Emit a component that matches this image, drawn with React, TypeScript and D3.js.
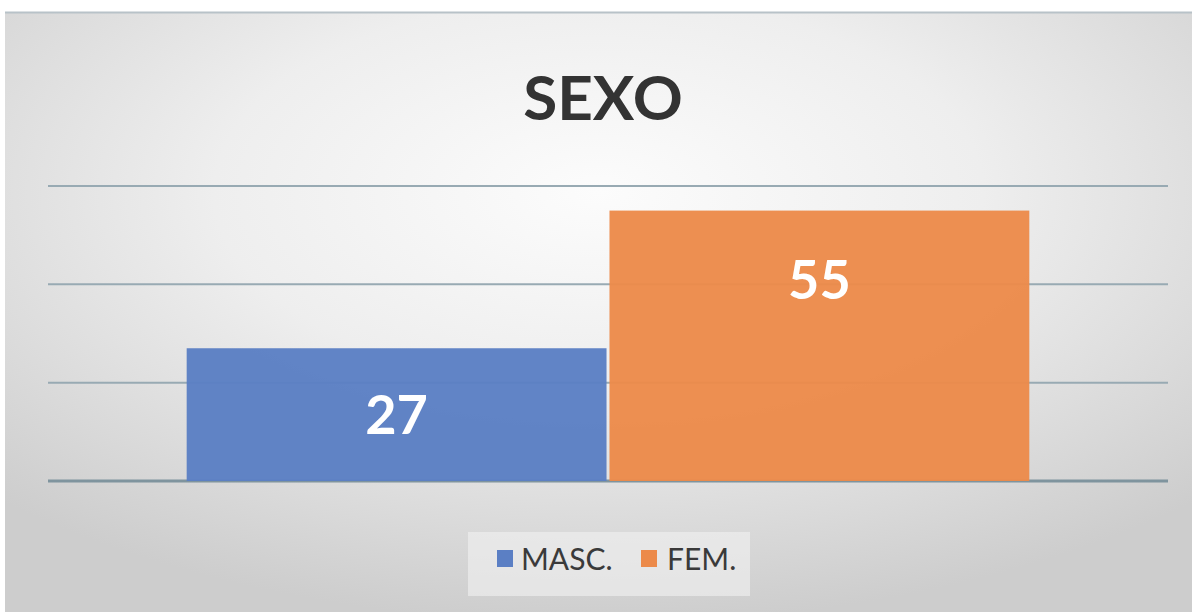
import React, { useEffect, useRef } from "react";
import * as d3 from "d3";

const categories = ["MASC.", "FEM."];
const values = [27, 55];
const colors = ["#5b7fc4", "#ec8a4a"];
const gridTicks = [0, 20, 40, 60];
const title = "SEXO";

const W = 1199;
const H = 614;

export default function App() {
  const ref = useRef<SVGSVGElement | null>(null);

  useEffect(() => {
    const svg = d3.select(ref.current);
    svg.selectAll("*").remove();

    const defs = svg.append("defs");
    const grad = defs
      .append("radialGradient")
      .attr("id", "bg")
      .attr("cx", "50%")
      .attr("cy", "30%")
      .attr("r", "72%");
    grad.append("stop").attr("offset", "0%").attr("stop-color", "#fcfcfc");
    grad.append("stop").attr("offset", "45%").attr("stop-color", "#eeeeee");
    grad.append("stop").attr("offset", "100%").attr("stop-color", "#cdcdcd");

    // frame
    svg.append("rect").attr("x", 0).attr("y", 0).attr("width", W).attr("height", H).attr("fill", "#ffffff");
    svg
      .append("rect")
      .attr("x", 5)
      .attr("y", 12)
      .attr("width", 1187)
      .attr("height", 600)
      .attr("fill", "url(#bg)");
    svg
      .append("line")
      .attr("x1", 5)
      .attr("x2", 1192)
      .attr("y1", 12.5)
      .attr("y2", 12.5)
      .attr("stroke", "#b8c2c8")
      .attr("stroke-width", 2);

    const x = d3
      .scaleBand<string>()
      .domain(categories)
      .range([48, 1168])
      .paddingInner(0.007)
      .paddingOuter(0.328);
    const y = d3.scaleLinear().domain([0, 60]).range([481, 186]);

    // grid
    svg
      .append("g")
      .selectAll("line")
      .data(gridTicks)
      .join("line")
      .attr("x1", 48)
      .attr("x2", 1168)
      .attr("y1", (d) => y(d))
      .attr("y2", (d) => y(d))
      .attr("stroke", (d) => (d === 0 ? "#7f949e" : "#98aab3"))
      .attr("stroke-width", (d) => (d === 0 ? 3 : 2));

    // bars
    svg
      .append("g")
      .selectAll("rect")
      .data(values)
      .join("rect")
      .attr("x", (d, i) => x(categories[i])!)
      .attr("y", (d) => y(d))
      .attr("width", x.bandwidth())
      .attr("height", (d) => y(0) - y(d))
      .attr("fill", (d, i) => colors[i])
      .attr("fill-opacity", 0.96);

    // labels
    svg
      .append("g")
      .selectAll("text")
      .data(values)
      .join("text")
      .attr("x", (d, i) => x(categories[i])! + x.bandwidth() / 2)
      .attr("y", (d, i) => (i === 0 ? (y(d) + y(0)) / 2 : y(d) + 70))
      .attr("dy", "0.35em")
      .attr("text-anchor", "middle")
      .attr("font-family", "Lato, 'Open Sans', sans-serif")
      .attr("font-weight", "bold")
      .attr("font-size", 54)
      .attr("fill", "#ffffff")
      .text((d) => d);

    // title
    svg
      .append("text")
      .attr("x", 603)
      .attr("y", 120)
      .attr("text-anchor", "middle")
      .attr("font-family", "Lato, 'Open Sans', sans-serif")
      .attr("font-weight", "bold")
      .attr("font-size", 62)
      .attr("fill", "#333333")
      .text(title);

    // legend
    const lg = svg.append("g");
    lg.append("rect")
      .attr("x", 468)
      .attr("y", 532)
      .attr("width", 282)
      .attr("height", 64)
      .attr("fill", "#f2f2f2")
      .attr("fill-opacity", 0.6);
    const items = [
      { sx: 497, tx: 521 },
      { sx: 641, tx: 667 },
    ];
    categories.forEach((c, i) => {
      lg.append("rect")
        .attr("x", items[i].sx)
        .attr("y", 550)
        .attr("width", 16)
        .attr("height", 17)
        .attr("fill", colors[i]);
      lg.append("text")
        .attr("x", items[i].tx)
        .attr("y", 570)
        .attr("font-family", "Lato, 'Open Sans', sans-serif")
        .attr("font-size", 30)
        .attr("fill", "#3a3a3a")
        .text(c);
    });
  }, []);

  return (
    <svg
      ref={ref}
      width={W}
      height={H}
      style={{ position: "absolute", left: 0, top: 0 }}
    />
  );
}
